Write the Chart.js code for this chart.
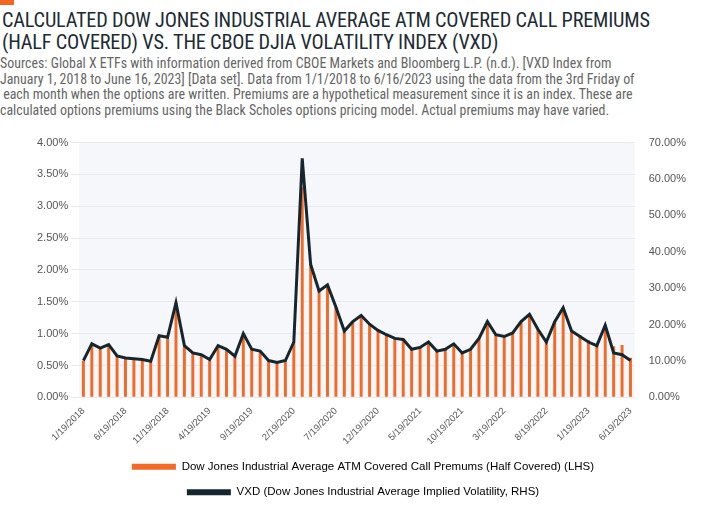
<!DOCTYPE html>
<html><head><meta charset="utf-8">
<script src="https://cdn.jsdelivr.net/npm/chart.js@4"></script>
<style>
body{margin:0;width:720px;height:512px;background:#fff;font-family:"Liberation Sans Narrow","Roboto Condensed","Liberation Sans",sans-serif;overflow:hidden;position:relative}
#bar{position:absolute;left:0;top:0;width:14px;height:5px;background:#f26522}
#t{position:absolute;left:2px;top:9px;font-size:20.3px;line-height:22px;color:#1d2b33;letter-spacing:-0.2px}
#s{position:absolute;left:0px;top:56px;font-size:13.9px;line-height:15.5px;color:#666}
#w{position:absolute;left:0;top:130px;width:720px;height:382px}
</style></head><body>
<div id="bar"></div>
<div id="t">CALCULATED DOW JONES INDUSTRIAL AVERAGE ATM COVERED CALL PREMIUMS<br>(HALF COVERED) VS. THE CBOE DJIA VOLATILITY INDEX (VXD)</div>
<div id="s">Sources: Global X ETFs with information derived from CBOE Markets and Bloomberg L.P. (n.d.). [VXD Index from<br>January 1, 2018 to June 16, 2023] [Data set]. Data from 1/1/2018 to 6/16/2023 using the data from the 3rd Friday of<br>&nbsp;each month when the options are written. Premiums are a hypothetical measurement since it is an index. These are<br>calculated options premiums using the Black Scholes options pricing model. Actual premiums may have varied.</div>
<div id="w"><canvas id="c"></canvas></div>
<script>
const categories=["1/19/2018","2/19/2018","3/19/2018","4/19/2018","5/19/2018","6/19/2018","7/19/2018","8/19/2018","9/19/2018","10/19/2018","11/19/2018","12/19/2018",
"1/19/2019","2/19/2019","3/19/2019","4/19/2019","5/19/2019","6/19/2019","7/19/2019","8/19/2019","9/19/2019","10/19/2019","11/19/2019","12/19/2019",
"1/19/2020","2/19/2020","3/19/2020","4/19/2020","5/19/2020","6/19/2020","7/19/2020","8/19/2020","9/19/2020","10/19/2020","11/19/2020","12/19/2020",
"1/19/2021","2/19/2021","3/19/2021","4/19/2021","5/19/2021","6/19/2021","7/19/2021","8/19/2021","9/19/2021","10/19/2021","11/19/2021","12/19/2021",
"1/19/2022","2/19/2022","3/19/2022","4/19/2022","5/19/2022","6/19/2022","7/19/2022","8/19/2022","9/19/2022","10/19/2022","11/19/2022","12/19/2022",
"1/19/2023","2/19/2023","3/19/2023","4/19/2023","5/19/2023","6/19/2023"];
const premiums=[0.57,0.84,0.77,0.83,0.65,0.62,0.61,0.59,0.57,0.97,0.94,1.49,
0.81,0.70,0.67,0.59,0.81,0.75,0.65,1.00,0.75,0.73,0.58,0.55,
0.58,0.87,3.30,2.10,1.68,1.77,1.42,1.04,1.19,1.29,1.15,1.05,
0.98,0.93,0.91,0.75,0.78,0.87,0.73,0.76,0.84,0.70,0.76,0.93,
1.19,0.98,0.95,1.01,1.19,1.30,1.07,0.87,1.19,1.41,1.06,0.98,
0.90,0.82,1.13,0.80,0.82,0.62];
const vxd=[10.1,14.7,13.5,14.5,11.4,10.8,10.6,10.4,9.9,16.9,16.5,26.0,
14.2,12.2,11.7,10.4,14.2,13.2,11.3,17.5,13.2,12.7,10.1,9.6,
10.1,15.2,65.7,36.5,29.2,30.9,24.8,18.2,20.8,22.5,20.1,18.4,
17.2,16.2,15.9,13.2,13.7,15.2,12.7,13.2,14.7,12.2,13.2,16.2,
20.8,17.2,16.7,17.7,20.8,22.8,18.7,15.2,20.8,24.6,18.2,16.7,
15.2,14.2,19.8,12.2,11.7,10.1];
const leftTicks=[0,0.5,1,1.5,2,2.5,3,3.5,4];
const rightTicks=[0,10,20,30,40,50,60,70];
const bgPlugin={id:'bg',beforeDraw(ch){const a=ch.chartArea,x=ch.ctx;x.save();x.fillStyle='#f5f7fa';x.fillRect(a.left,a.top,a.right-a.left,a.bottom-a.top);x.restore();}};
new Chart(document.getElementById('c'),{
 data:{labels:categories,datasets:[
  {type:'line',label:'VXD (Dow Jones Industrial Average Implied Volatility, RHS)',data:vxd,yAxisID:'y2',borderColor:'#15262e',backgroundColor:'#15262e',borderWidth:3,pointRadius:0,tension:0,order:0},
  {type:'bar',label:'Dow Jones Industrial Average ATM Covered Call Premums (Half Covered) (LHS)',data:premiums,yAxisID:'y',backgroundColor:'#f26a25',barPercentage:0.35,categoryPercentage:1,order:1}
 ]},
 options:{responsive:true,maintainAspectRatio:false,animation:false,
  layout:{padding:{left:34,right:28,top:8,bottom:4}},
  plugins:{legend:{position:'bottom',align:'center',labels:{color:'#555',font:{size:11.5,family:'"Liberation Sans Narrow",sans-serif'},boxWidth:44,boxHeight:6,padding:14,
    generateLabels(ch){return ch.data.datasets.slice().reverse().map((d,i)=>({text:d.label,fillStyle:d.type==='bar'?'#f26a25':'#15262e',strokeStyle:d.type==='bar'?'#f26a25':'#15262e',lineWidth:0,datasetIndex:1-i}));}}},tooltip:{enabled:false}},
  scales:{
   x:{grid:{display:false},border:{display:false},ticks:{autoSkip:false,maxRotation:45,minRotation:45,padding:0,color:'#555',font:{size:9.5},callback(v,i){return i%5===0?categories[i]:'';}}},
   y:{position:'left',min:0,max:4,afterBuildTicks(s){s.ticks=leftTicks.map(v=>({value:v}));},grid:{color:'#e6e9ee'},border:{display:false},ticks:{color:'#555',font:{size:11},callback:v=>v.toFixed(2)+'%'}},
   y2:{position:'right',min:0,max:70,afterBuildTicks(s){s.ticks=rightTicks.map(v=>({value:v}));},grid:{display:false},border:{display:false},ticks:{color:'#555',font:{size:11},padding:6,callback:v=>v.toFixed(2)+'%'}}
  }}
 ,plugins:[bgPlugin]});
</script></body></html>
